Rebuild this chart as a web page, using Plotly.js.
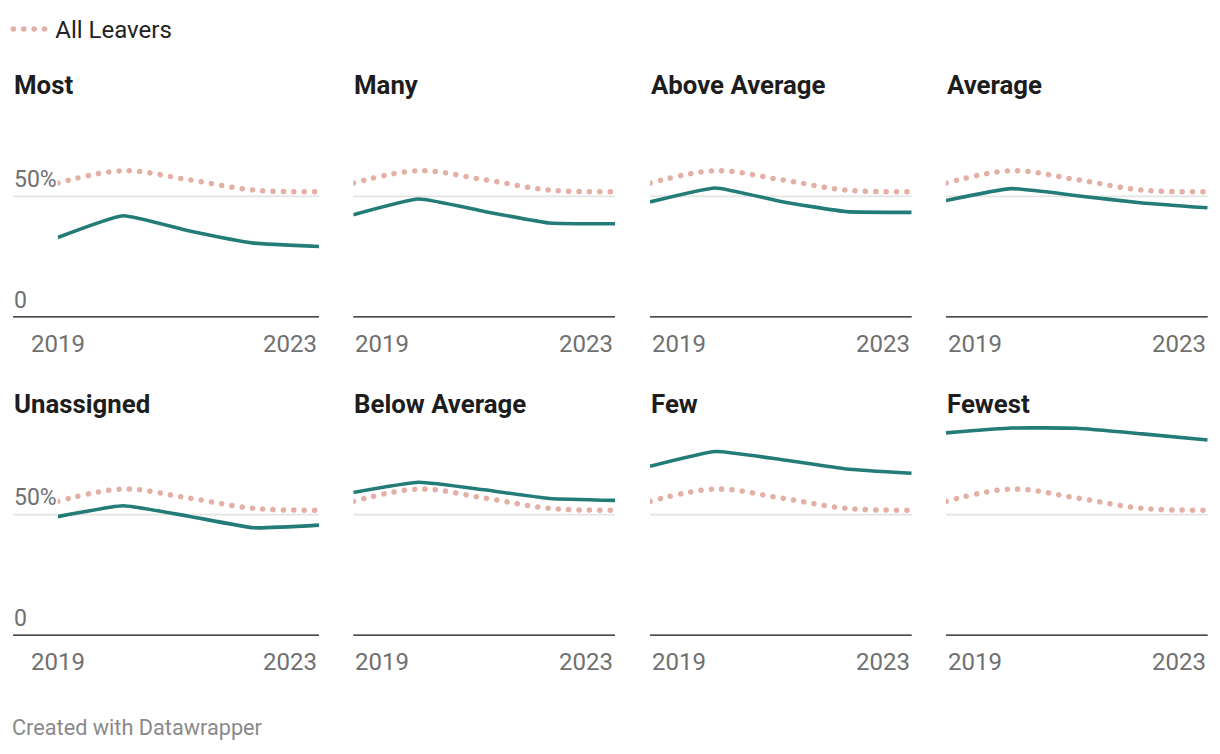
<!DOCTYPE html>
<html>
<head>
<meta charset="utf-8">
<script src="https://cdn.plot.ly/plotly-3.0.1.min.js"></script>
<style>
  html, body { margin: 0; padding: 0; background: #ffffff; }
  #chart { width: 1220px; height: 754px; }
</style>
</head>
<body>
<div id="chart"></div>
<script>
// ---------- data ----------
const years = [2019, 2020, 2021, 2022, 2023];
const xTickLabels = ["2019", "2023"];
const yTickVals = [0, 50];
const yTickText = ["0", "50%"];
const panelTitles = ["Most", "Many", "Above Average", "Average", "Unassigned", "Below Average", "Few", "Fewest"];
const allLeavers   = [55.5, 60.6, 56.9, 52.6, 51.9];
const most         = [33.0, 42.0, 35.8, 30.7, 29.3];
const many         = [42.4, 48.9, 43.8, 39.0, 38.7];
const aboveAverage = [47.7, 53.5, 47.9, 43.7, 43.4];
const average      = [48.3, 53.2, 50.3, 47.3, 45.3];
const unassigned   = [49.2, 53.7, 49.4, 44.6, 45.7];
const belowAverage = [59.2, 63.4, 60.3, 56.7, 55.9];
const few          = [70.0, 76.1, 72.8, 68.9, 67.1];
const fewest       = [83.8, 85.8, 85.7, 83.4, 80.9];
const panelSeries = [most, many, aboveAverage, average, unassigned, belowAverage, few, fewest];

// ---------- geometry / style ----------
const W = 1220, H = 754;
const colLeft  = [57.7, 353.3, 650, 946];
const colRight = [319, 615, 911.7, 1207.7];
const rowBase  = [317.4, 635.7];
const pxPerUnit = 2.42;
const yMax = 90;
const extLeft = 13;         // left edge of first-column grid/baseline
const titleX = [12, 352, 649, 945];

const TEAL = "#237c78";
const PINK = "#e4b0a6";
const GRID = "#e4e4e4";
const BASE = "#111111";
const TICK = "#707070";
const DARK = "#1d1d1d";
const FONT = "Roboto, 'Open Sans', sans-serif";

const traces = [];
const shapes = [];
const annotations = [];
const layout = {
  width: W, height: H,
  margin: {l: 0, r: 0, t: 0, b: 0},
  paper_bgcolor: "#ffffff",
  plot_bgcolor: "rgba(0,0,0,0)",
  font: {family: FONT, size: 22, color: DARK},
  showlegend: true,
  hovermode: false,
  legend: {
    x: 8.3 / W, xanchor: "left",
    y: 1 - 29.5 / H, yanchor: "middle",
    orientation: "h",
    font: {family: FONT, size: 24, color: "#222"},
    bgcolor: "rgba(0,0,0,0)",
    itemwidth: 37,
    itemclick: false, itemdoubleclick: false
  }
};

for (let i = 0; i < 8; i++) {
  const r = Math.floor(i / 4), c = i % 4;
  const n = i + 1;
  const xa = n === 1 ? "xaxis" : "xaxis" + n;
  const ya = n === 1 ? "yaxis" : "yaxis" + n;
  const xr = n === 1 ? "x" : "x" + n;
  const yr = n === 1 ? "y" : "y" + n;
  const base = rowBase[r];
  const top = base - yMax * pxPerUnit;

  layout[xa] = {
    domain: [colLeft[c] / W, colRight[c] / W],
    range: [years[0], years[years.length - 1]],
    showgrid: false, zeroline: false, showline: false, showticklabels: false,
    ticks: "", fixedrange: true, anchor: yr
  };
  layout[ya] = {
    domain: [1 - base / H, 1 - top / H],
    range: [0, yMax],
    showgrid: false, zeroline: false, showline: false, showticklabels: false,
    ticks: "", fixedrange: true, anchor: xr
  };

  // All Leavers reference line
  traces.push({
    type: "scatter", mode: "lines",
    x: years, y: allLeavers,
    xaxis: xr, yaxis: yr,
    name: "All Leavers",
    showlegend: i === 0,
    line: {color: PINK, width: 5.5, dash: "0.1px,10.3px", shape: "spline", smoothing: 1},
    hoverinfo: "skip"
  });
  // Panel series
  traces.push({
    type: "scatter", mode: "lines",
    x: years, y: panelSeries[i],
    xaxis: xr, yaxis: yr,
    name: panelTitles[i],
    showlegend: false,
    line: {color: TEAL, width: 3.6, shape: "spline", smoothing: 0.4},
    hoverinfo: "skip"
  });

  const x0 = c === 0 ? (extLeft - colLeft[c]) / (colRight[c] - colLeft[c]) : 0;
  // gridline at 50%
  shapes.push({type: "line", xref: xr + " domain", yref: yr, x0: x0, x1: 1,
    y0: yTickVals[1], y1: yTickVals[1], line: {color: GRID, width: 1.7}, layer: "below"});
  // baseline
  shapes.push({type: "line", xref: xr + " domain", yref: yr, x0: x0, x1: 1,
    y0: yTickVals[0], y1: yTickVals[0], line: {color: BASE, width: 2.2}, layer: "above"});

  // panel title
  annotations.push({
    text: "<b>" + panelTitles[i] + "</b>",
    xref: "paper", yref: "paper",
    x: titleX[c] / W, xanchor: "left",
    y: 1 - (85.2 + r * 318.3) / H, yanchor: "middle",
    showarrow: false,
    font: {family: FONT, size: 25.8, color: DARK}
  });

  // y tick labels in first column
  if (c === 0) {
    for (let k = 0; k < yTickVals.length; k++) {
      annotations.push({
        text: yTickText[k],
        xref: "paper", yref: yr,
        x: 12 / W, xanchor: "left",
        y: yTickVals[k], yanchor: "middle", yshift: 17.4,
        showarrow: false,
        font: {family: FONT, size: 23, color: TICK}
      });
    }
  }

  // x tick labels
  annotations.push({
    text: xTickLabels[0],
    xref: xr, yref: yr,
    x: years[0], xanchor: c === 0 ? "center" : "left",
    y: 0, yanchor: "middle", yshift: -26.3,
    showarrow: false,
    font: {family: FONT, size: 24, color: TICK}
  });
  annotations.push({
    text: xTickLabels[1],
    xref: xr, yref: yr,
    x: years[years.length - 1], xanchor: "right",
    y: 0, yanchor: "middle", yshift: -26.3,
    showarrow: false,
    font: {family: FONT, size: 24, color: TICK}
  });
}

annotations.push({
  text: "Created with Datawrapper",
  xref: "paper", yref: "paper",
  x: 10 / W, xanchor: "left",
  y: 1 - 727.7 / H, yanchor: "middle",
  showarrow: false,
  font: {family: FONT, size: 21.7, color: "#8a8a8a"}
});

layout.shapes = shapes;
layout.annotations = annotations;

function roundDots() {
  document.querySelectorAll("#chart path.js-line").forEach(function (p) {
    const da = p.style.strokeDasharray;
    if (da && da !== "none" && da !== "") {
      p.style.strokeLinecap = "round";
    }
  });
}

Plotly.newPlot("chart", traces, layout, {displayModeBar: false, staticPlot: true}).then(function (gd) {
  roundDots();
  gd.on("plotly_afterplot", roundDots);
});
</script>
</body>
</html>
